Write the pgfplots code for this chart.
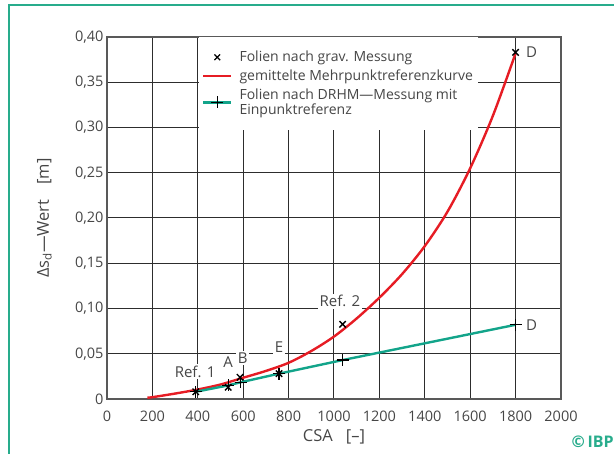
\documentclass[border=0pt]{standalone}
\usepackage{fontspec}
\setmainfont{Open Sans}
\usepackage{pgfplots}
\pgfplotsset{compat=1.18}
\usetikzlibrary{calc}
\definecolor{ibpred}{RGB}{230,28,36}
\definecolor{ibpgreen}{RGB}{18,164,138}
\definecolor{ibpframe}{RGB}{40,172,140}
\definecolor{txt}{RGB}{70,70,70}
\definecolor{gridc}{RGB}{45,45,45}
\pgfplotsset{widelegend/.style={legend image code/.code={%
  \draw[mark repeat=2,mark phase=2,##1] plot coordinates {(0pt,0pt) (14pt,0pt) (28pt,0pt)};}}}

\begin{document}
\begin{tikzpicture}[font=\fontsize{14}{16}\selectfont]
\begin{axis}[
  name=ax,
  scale only axis, width=454pt, height=362pt,
  xmin=0, xmax=2000, ymin=0, ymax=0.4,
  xtick={0,200,400,600,800,1000,1200,1400,1600,1800,2000},
  xticklabels={0,200,400,600,800,1000,1200,1400,1600,1800,2000},
  ytick={0,0.05,0.1,0.15,0.2,0.25,0.3,0.35,0.4},
  yticklabels={0,{0,05},{0,10},{0,15},{0,20},{0,25},{0,30},{0,35},{0,40}},
  grid=major,
  major grid style={gridc, line width=1pt},
  major tick length=0pt,
  axis line style={black!65, line width=1.3pt},
  tick label style={txt, font=\fontsize{14.5}{16}\selectfont},
  xticklabel style={yshift=-8pt},
  xlabel={CSA\hspace{0.8em}[–]},
  ylabel={Δs\textsubscript{d}—Wert\hspace{0.9em}[m]},
  label style={font=\fontsize{16.5}{18}\selectfont},
  xlabel style={txt, at={(axis description cs:0.5,-0.105)}, anchor=center},
  ylabel style={txt, at={(axis description cs:-0.138,0.5)}, anchor=center},
  legend style={at={(0.2025,1)}, anchor=north west, draw=none, fill=white,
    inner xsep=3pt, inner ysep=12pt, text=txt,
    font=\fontsize{14}{15.5}\selectfont,
    cells={anchor=west, align=left},
    row sep=2.5pt,
    /tikz/every odd column/.append style={column sep=5pt}},
]
\addlegendimage{only marks, mark=x, mark size=4pt, black, line width=1.2pt, widelegend}
\addlegendentry{Folien nach grav. Messung}
\addlegendimage{ibpred, line width=2.4pt, widelegend}
\addlegendentry{gemittelte Mehrpunktreferenzkurve}
\addlegendimage{ibpgreen, line width=2.4pt, mark=+, mark size=6pt, mark options={black, line width=1.2pt}, widelegend}
\addlegendentry{Folien nach DRHM—Messung mit\\Einpunktreferenz}

% gemittelte Mehrpunktreferenzkurve
\addplot[ibpred, line width=2.4pt, smooth, forget plot] coordinates {
  (178,0.0015) (200,0.002) (300,0.006) (400,0.0105) (500,0.016)
  (600,0.0235) (700,0.031) (800,0.040) (900,0.053) (1000,0.069)
  (1100,0.089) (1200,0.112) (1300,0.138) (1400,0.169) (1500,0.207)
  (1600,0.255) (1700,0.313) (1800,0.382)
};
% DRHM mit Einpunktreferenz
\addplot[ibpgreen, line width=2.4pt, forget plot, mark=+, mark size=6pt,
  mark options={black, line width=1.3pt}] coordinates {
  (391,0.008) (534,0.015) (589,0.0185) (758,0.028) (1038,0.043) (1800,0.082)
};
% gravimetrisch
\addplot[only marks, mark=x, mark size=4.5pt, black, line width=1.4pt, forget plot] coordinates {
  (391,0.008) (534,0.013) (586,0.024) (758,0.028) (1038,0.0825) (1800,0.383)
};

\node[fill=white, inner sep=1.5pt, text=txt, font=\fontsize{15}{16}\selectfont] at (axis cs:388,0.030) {Ref. 1};
\node[fill=white, inner sep=1.5pt, text=txt, font=\fontsize{15}{16}\selectfont] at (axis cs:534,0.041) {A};
\node[fill=white, inner sep=1.5pt, text=txt, font=\fontsize{15}{16}\selectfont] at (axis cs:598,0.045) {B};
\node[fill=white, inner sep=1.5pt, text=txt, font=\fontsize{15}{16}\selectfont] at (axis cs:758,0.057) {E};
\node[fill=white, inner sep=1.5pt, text=txt, font=\fontsize{15}{16}\selectfont] at (axis cs:1026,0.108) {Ref. 2};
\node[text=txt, font=\fontsize{15}{16}\selectfont] at (axis cs:1870,0.383) {D};
\node[text=txt, font=\fontsize{15}{16}\selectfont] at (axis cs:1870,0.082) {D};
\end{axis}
\coordinate (O) at ($(ax.south west)+(-107pt,-55pt)$);
\draw[ibpframe, line width=2pt] ($(O)+(9.5pt,0pt)$) -- ($(O)+(9.5pt,448.5pt)$) -- ($(O)+(614pt,448.5pt)$);
\node[anchor=south east, inner sep=0pt, text=ibpframe, font=\bfseries\fontsize{16}{16}\selectfont] at ($(O)+(614pt,6pt)$) {©\,IBP};
\pgfresetboundingbox
\path[use as bounding box] (O) rectangle ($(O)+(614pt,454pt)$);
\end{tikzpicture}
\end{document}
